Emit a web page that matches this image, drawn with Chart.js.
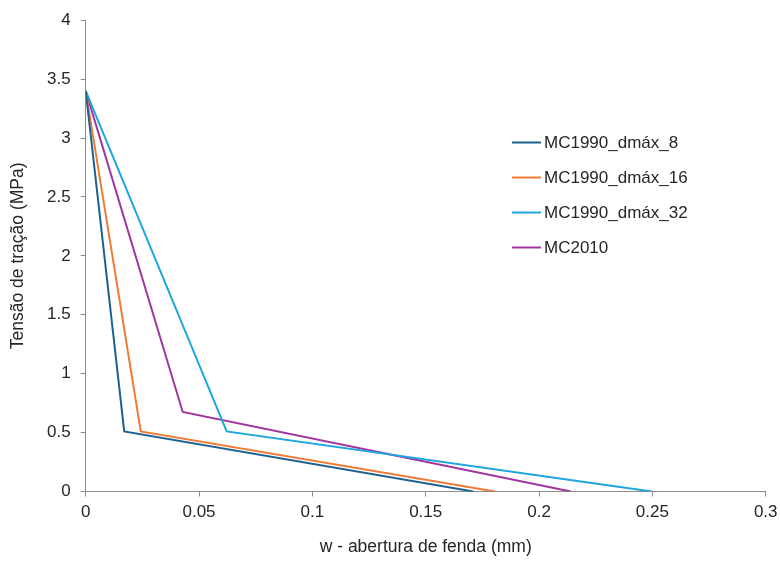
<!DOCTYPE html>
<html>
<head>
<meta charset="utf-8">
<script src="https://cdn.jsdelivr.net/npm/chart.js@4/dist/chart.umd.min.js"></script>
<style>
  html, body { margin: 0; padding: 0; background: #fff; }
  #wrap { width: 780px; height: 564px; }
</style>
</head>
<body>
<div id="wrap"><canvas id="chart" width="780" height="564"></canvas></div>
<script>
// crack opening w (mm) and tensile stress (MPa) for each model
const seriesNames = ['MC1990_dmáx_8', 'MC1990_dmáx_16', 'MC1990_dmáx_32', 'MC2010'];
const seriesColors = ['#1d6190', '#ef7b34', '#1ea6df', '#a1349f'];

const wDmax8 = [0, 0.017, 0.171];
const sDmax8 = [3.4, 0.51, 0];
const wDmax16 = [0, 0.0243, 0.1805];
const sDmax16 = [3.4, 0.51, 0];
const wDmax32 = [0, 0.0622, 0.2497];
const sDmax32 = [3.4, 0.51, 0];
const wMC2010 = [0, 0.0428, 0.214];
const sMC2010 = [3.4, 0.675, 0];

const xTicks = [0, 0.05, 0.1, 0.15, 0.2, 0.25, 0.3];
const yTicks = [0, 0.5, 1, 1.5, 2, 2.5, 3, 3.5, 4];

const wAll = [wDmax8, wDmax16, wDmax32, wMC2010];
const sAll = [sDmax8, sDmax16, sDmax32, sMC2010];

const datasets = seriesNames.map((name, i) => ({
    label: name,
    data: wAll[i].map((w, j) => ({ x: w, y: sAll[i][j] })),
    borderColor: seriesColors[i],
    backgroundColor: seriesColors[i],
    borderWidth: 2,
    pointRadius: 0,
    showLine: true,
    tension: 0
}));

const axisColor = '#8c8c8c';
const textColor = '#262626';
const fontFamily = 'Arial, "Liberation Sans", sans-serif';

// legend drawn by hand so it sits inside the plot like the original
const sideLegend = {
    id: 'sideLegend',
    afterDraw(chart) {
        const ctx = chart.ctx;
        ctx.save();
        ctx.font = '17px ' + fontFamily;
        ctx.textBaseline = 'middle';
        chart.data.datasets.forEach((ds, i) => {
            const y = 142.5 + i * 35;
            ctx.strokeStyle = ds.borderColor;
            ctx.lineWidth = 2;
            ctx.beginPath();
            ctx.moveTo(512, y);
            ctx.lineTo(541, y);
            ctx.stroke();
            ctx.fillStyle = textColor;
            ctx.fillText(ds.label, 544, y + 1);
        });
        ctx.restore();
    }
};

new Chart(document.getElementById('chart'), {
    type: 'scatter',
    data: { datasets },
    plugins: [sideLegend],
    options: {
        responsive: false,
        animation: false,
        layout: { padding: { top: 19, right: 0, left: 0, bottom: 0 } },
        plugins: {
            legend: { display: false },
            tooltip: { enabled: false }
        },
        scales: {
            x: {
                type: 'linear',
                min: 0,
                max: 0.3,
                afterBuildTicks: scale => { scale.ticks = xTicks.map(v => ({ value: v })); },
                afterFit: scale => {
                    scale.height = 72.5;
                    scale.paddingLeft = 0;
                    scale.paddingRight = 14.3;
                },
                grid: { drawOnChartArea: false, drawTicks: true, tickLength: 5, color: axisColor },
                border: { color: axisColor, width: 1 },
                ticks: {
                    color: textColor,
                    font: { family: fontFamily, size: 17 },
                    padding: 6,
                    maxRotation: 0,
                    callback: v => String(v)
                },
                title: {
                    display: true,
                    text: 'w - abertura de fenda (mm)',
                    color: textColor,
                    font: { family: fontFamily, size: 17.5 },
                    padding: { top: 6, bottom: 6 }
                }
            },
            y: {
                type: 'linear',
                min: 0,
                max: 4,
                afterBuildTicks: scale => { scale.ticks = yTicks.map(v => ({ value: v })); },
                afterFit: scale => { scale.width = 85.7; },
                grid: { drawOnChartArea: false, drawTicks: true, tickLength: 5, color: axisColor },
                border: { color: axisColor, width: 1 },
                ticks: {
                    color: textColor,
                    font: { family: fontFamily, size: 17 },
                    padding: 10,
                    callback: v => String(v)
                },
                title: {
                    display: true,
                    text: 'Tensão de tração (MPa)',
                    color: textColor,
                    font: { family: fontFamily, size: 17.5 },
                    padding: { top: 8, bottom: 8 }
                }
            }
        }
    }
});
</script>
</body>
</html>
